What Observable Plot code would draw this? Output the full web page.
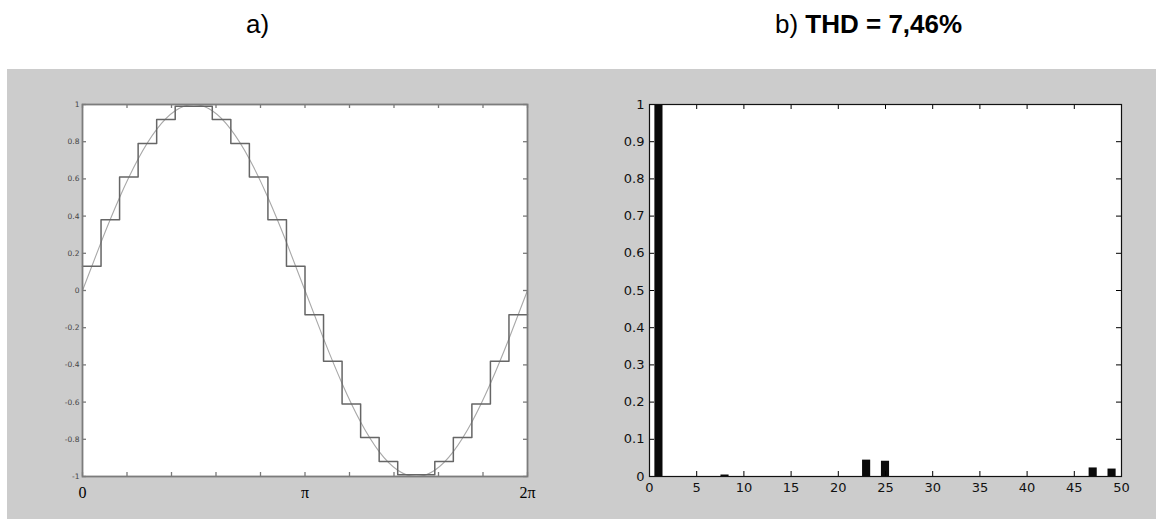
<!DOCTYPE html>
<html>
<head>
<meta charset="utf-8">
<script src="https://cdn.jsdelivr.net/npm/d3@7"></script>
<script src="https://cdn.jsdelivr.net/npm/@observablehq/plot@0.6"></script>
<style>
  html, body { margin: 0; padding: 0; background: #ffffff; }
  body { position: relative; width: 1156px; height: 519px; overflow: hidden; font-family: "Liberation Sans", Arial, sans-serif; }
  #bg { position: absolute; left: 7px; top: 69px; width: 1149px; height: 450px; background: #cccccc; }
  .title { position: absolute; top: 11px; font-size: 26px; line-height: 26px; color: #000; white-space: nowrap; }
  #ta { left: 246px; }
  #tb { left: 775px; }
  #pa { position: absolute; left: 7px; top: 69px; }
  #pb { position: absolute; left: 567px; top: 69px; }
</style>
</head>
<body>
<div id="bg"></div>
<div class="title" id="ta">a)</div>
<div class="title" id="tb">b) <b>THD = 7,46%</b></div>
<div id="pa"></div>
<div id="pb"></div>
<script>
// ---------- Panel a) data ----------
// staircase levels, one per 15° step (24 steps over one period)
const stepLevels = [0.13, 0.38, 0.61, 0.79, 0.92, 0.99, 0.99, 0.92, 0.79, 0.61, 0.38, 0.13,
                    -0.13, -0.38, -0.61, -0.79, -0.92, -0.99, -0.99, -0.92, -0.79, -0.61, -0.38, -0.13];
// reference sine, sampled every 15°
const sineValues = [0, 0.259, 0.5, 0.707, 0.866, 0.966, 1, 0.966, 0.866, 0.707, 0.5, 0.259,
                    0, -0.259, -0.5, -0.707, -0.866, -0.966, -1, -0.966, -0.866, -0.707, -0.5, -0.259, 0];
const stepDegrees = 15;
const leftXTickMultiples = [0, 0.2, 0.4, 0.6, 0.8, 1, 1.2, 1.4, 1.6, 1.8, 2]; // × π
const leftXLabelMultiples = [0, 1, 2]; // × π
const leftXLabelTexts = ["0", "π", "2π"];
const leftYTicks = [-1, -0.8, -0.6, -0.4, -0.2, 0, 0.2, 0.4, 0.6, 0.8, 1];

// ---------- Panel b) data ----------
const harmonicOrders = [1, 8, 23, 25, 47, 49];
const harmonicAmps = [1, 0.004, 0.044, 0.041, 0.023, 0.02];
const rightXTicks = [0, 5, 10, 15, 20, 25, 30, 35, 40, 45, 50];
const rightYTicks = [0, 0.1, 0.2, 0.3, 0.4, 0.5, 0.6, 0.7, 0.8, 0.9, 1];

const deg = Math.PI / 180;
const stepData = stepLevels.concat([stepLevels[stepLevels.length - 1]])
  .map((v, i) => ({ x: i * stepDegrees * deg, y: v }));
const sineData = sineValues.map((v, i) => ({ x: i * stepDegrees * deg, y: v }));
const harmonics = harmonicOrders.map((o, i) => ({ order: o, amp: harmonicAmps[i] }));
const fmt = d => String(+d.toFixed(1));

// ---------- Panel a) ----------
{
  const W = 560, H = 450, mL = 75, mR = 40, mT = 35, mB = 43;
  const pw = W - mL - mR, ph = H - mT - mB, tl = 4, tc = "#7a7a7a";
  const xt = leftXTickMultiples.map(m => m * Math.PI);
  const chart = Plot.plot({
    width: W, height: H, marginLeft: mL, marginRight: mR, marginTop: mT, marginBottom: mB,
    style: { background: "transparent", overflow: "visible" },
    x: { domain: [0, 2 * Math.PI] },
    y: { domain: [-1, 1] },
    marks: [
      Plot.frame({ fill: "white", stroke: null }),
      Plot.line(sineData, { x: "x", y: "y", stroke: "#a8a8a8", strokeWidth: 1.1, curve: "natural" }),
      Plot.line(stepData, { x: "x", y: "y", stroke: "#666666", strokeWidth: 1.5, curve: "step-after" }),
      Plot.ruleX(xt, { x: d => d, insetTop: ph - tl, stroke: tc, strokeWidth: 1.3 }),
      Plot.ruleX(xt, { x: d => d, insetBottom: ph - tl, stroke: tc, strokeWidth: 1.3 }),
      Plot.ruleY(leftYTicks, { y: d => d, insetRight: pw - tl, stroke: tc, strokeWidth: 1.3 }),
      Plot.ruleY(leftYTicks, { y: d => d, insetLeft: pw - tl, stroke: tc, strokeWidth: 1.3 }),
      Plot.frame({ stroke: "#7c7c7c", strokeWidth: 1.8 }),
      Plot.axisY({ ticks: leftYTicks, tickSize: 0, tickPadding: 3, tickFormat: fmt, label: null,
                   fontSize: 7.5, fontFamily: "DejaVu Sans", fill: "#444" }),
      Plot.axisX({ ticks: leftXLabelMultiples.map(m => m * Math.PI), tickSize: 0, tickPadding: 10,
                   tickFormat: (d, i) => leftXLabelTexts[i], label: null,
                   fontSize: 16, fontFamily: "Liberation Serif", fill: "#000" })
    ]
  });
  document.getElementById("pa").appendChild(chart);
}

// ---------- Panel b) ----------
{
  const W = 589, H = 450, mL = 82, mR = 35, mT = 35, mB = 43;
  const pw = W - mL - mR, ph = H - mT - mB, tl = 5, tc = "#000";
  const chart = Plot.plot({
    width: W, height: H, marginLeft: mL, marginRight: mR, marginTop: mT, marginBottom: mB,
    style: { background: "transparent", overflow: "visible" },
    x: { domain: [0, 50] },
    y: { domain: [0, 1] },
    marks: [
      Plot.frame({ fill: "white", stroke: null }),
      Plot.rectY(harmonics, { x1: d => d.order - 0.43, x2: d => d.order + 0.43, y1: 0, y2: "amp", fill: "#0a0a0a" }),
      Plot.ruleX(rightXTicks, { x: d => d, insetTop: ph - tl, stroke: tc }),
      Plot.ruleX(rightXTicks, { x: d => d, insetBottom: ph - tl, stroke: tc }),
      Plot.ruleY(rightYTicks, { y: d => d, insetRight: pw - tl, stroke: tc }),
      Plot.ruleY(rightYTicks, { y: d => d, insetLeft: pw - tl, stroke: tc }),
      Plot.frame({ stroke: "#111", strokeWidth: 1.2 }),
      Plot.axisY({ ticks: rightYTicks, tickSize: 0, tickPadding: 5, tickFormat: fmt, label: null,
                   fontSize: 13, fontFamily: "DejaVu Sans", fill: "#111" }),
      Plot.axisX({ ticks: rightXTicks, tickSize: 0, tickPadding: 6, tickFormat: d => String(d), label: null,
                   fontSize: 13, fontFamily: "DejaVu Sans", fill: "#111" })
    ]
  });
  document.getElementById("pb").appendChild(chart);
}
</script>
</body>
</html>
